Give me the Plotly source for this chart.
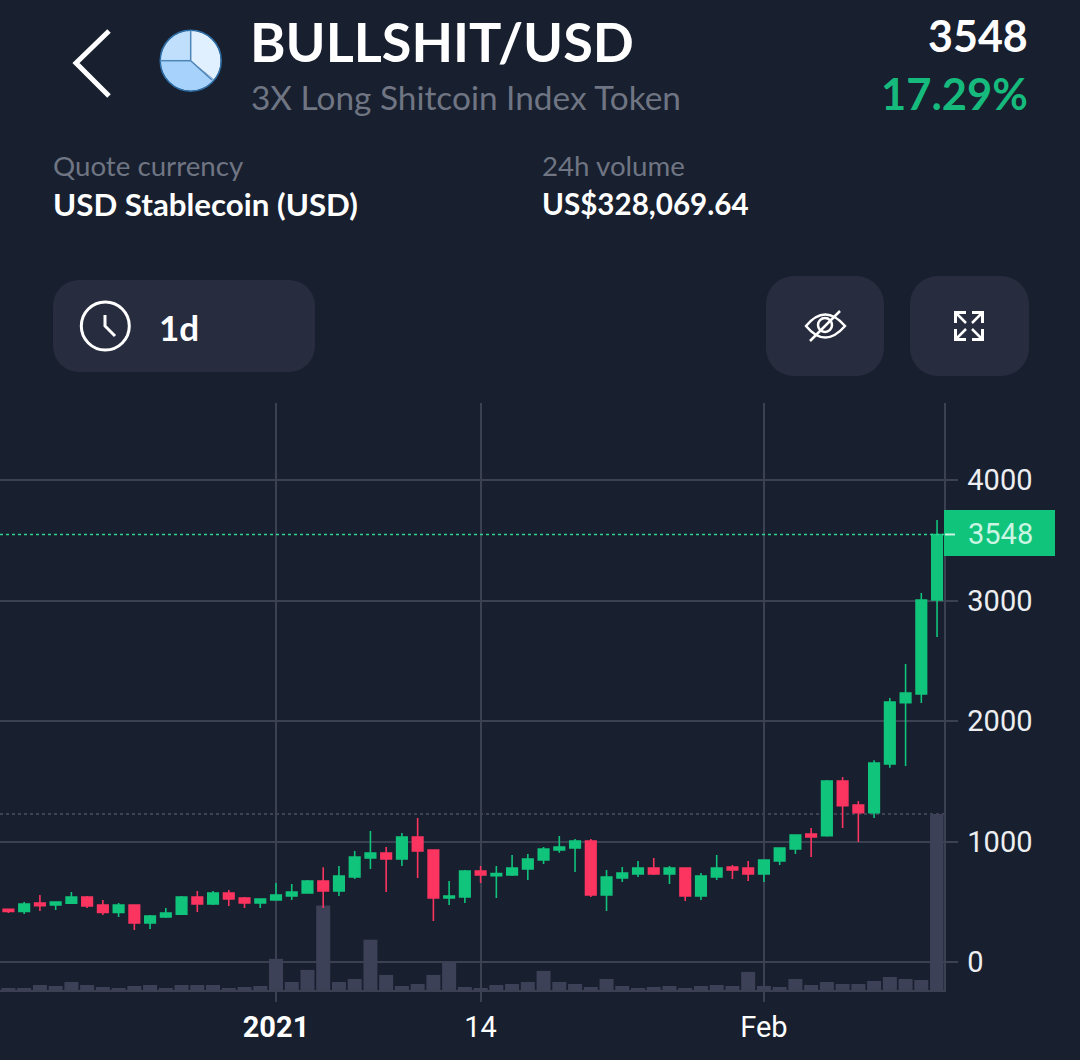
import math
import pandas as pd
import plotly.graph_objects as go

W = 1080
H = 1060
BG = "#181f2e"
PANEL = "#272d3f"
GRID = "#3b4052"
GREEN = "#10c47c"
RED = "#fb3460"
VOL = "#3d4158"
MUTED = "#6f7583"

dates = pd.date_range("2020-12-15", periods=60, freq="D")
open_ = [437, 420, 490, 473, 487, 540, 473, 412, 473, 324, 374, 396, 540, 481, 573, 531, 490,
         515, 548, 573, 672, 589, 706, 863, 905, 855, 1037, 930, 531, 540, 755, 717, 722, 772,
         847, 930, 946, 1004, 556, 697, 730, 780, 730, 780, 548, 706, 788, 780,
         730, 838, 938, 1062, 1049, 1502, 1303, 1240, 1643, 2152, 2224, 3004]
close = [420, 481, 468, 498, 540, 465, 412, 473, 324, 382, 407, 540, 481, 573, 523, 490, 523,
         556, 581, 672, 589, 714, 871, 905, 855, 1037, 921, 531, 548, 755, 722, 733, 780, 855,
         938, 954, 1004, 556, 706, 739, 780, 730, 780, 548, 714, 780, 764, 730,
         847, 946, 1054, 1037, 1502, 1298, 1240, 1652, 2158, 2232, 3004, 3548]
high = [443, 498, 556, 501, 581, 548, 515, 490, 473, 390, 448, 548, 589, 589, 598, 540, 526,
        656, 647, 681, 786, 797, 921, 1087, 954, 1071, 1195, 930, 672, 764, 797, 797, 888, 896,
        954, 1046, 1021, 1021, 764, 788, 838, 863, 797, 780, 739, 888, 805, 838,
        847, 946, 1054, 1112, 1510, 1535, 1336, 1674, 2191, 2473, 3062, 3668]
low = [407, 398, 423, 432, 481, 448, 390, 374, 266, 274, 365, 390, 415, 473, 465, 448, 448,
       512, 515, 567, 448, 548, 689, 772, 581, 797, 697, 340, 473, 490, 656, 531, 714, 681,
       813, 907, 747, 540, 423, 664, 706, 722, 647, 506, 515, 681, 689, 672,
       664, 805, 896, 871, 1040, 1112, 996, 1195, 1613, 1627, 2149, 2697]
volume = [3750, 3750, 9375, 7500, 15000, 9375, 5625, 3750, 7500, 9375, 3750, 9375, 9375, 9375,
          3750, 5625, 7500, 58125, 15000, 37500, 157500, 15000, 20625, 93750, 28125, 7500,
          11250, 28125, 52500, 5625, 3750, 9375, 11250, 15000, 35625, 15000, 11250, 5625,
          20625, 7500, 3750, 5625, 7500, 3750, 7500, 9375, 7500, 33750, 7500, 5625, 20625,
          9375, 15000, 11250, 11250, 16875, 24375, 20625, 18750, 328070]

price_ticks = [0, 1000, 2000, 3000, 4000]
date_ticks = ["2021-01-01", "2021-01-14", "2021-02-01"]
date_labels = ["<b>2021</b>", "14", "Feb"]
last_price = close[-1]


def px(x):
    return x / W


def py(y):
    return 1 - y / H


def path(points, closed=False):
    s = "M " + " L ".join(f"{px(x):.5f},{py(y):.5f}" for x, y in points)
    return s + (" Z" if closed else "")


def rounded(x0, y0, x1, y1, r):
    # corners as short polylines, everything here is in page pixels
    pts = []
    for cx, cy, a in [(x1 - r, y0 + r, -90), (x1 - r, y1 - r, 0), (x0 + r, y1 - r, 90), (x0 + r, y0 + r, 180)]:
        for i in range(13):
            t = math.radians(a + i * 7.5)
            pts.append((cx + r * math.cos(t), cy + r * math.sin(t)))
    return path(pts, True)


def wedge(cx, cy, r, a0, a1):
    pts = [(cx, cy)]
    for i in range(41):
        t = math.radians(a0 + (a1 - a0) * i / 40)
        pts.append((cx + r * math.cos(t), cy + r * math.sin(t)))
    return path(pts, True)


def shape_path(d, fill=None, color=None, width=0):
    return dict(type="path", path=d, xref="paper", yref="paper", fillcolor=fill or "rgba(0,0,0,0)",
                line=dict(color=color or "rgba(0,0,0,0)", width=width), layer="above")


def circle(cx, cy, r, fill=None, color=None, width=0):
    return dict(type="circle", xref="paper", yref="paper", x0=px(cx - r), x1=px(cx + r),
                y0=py(cy + r), y1=py(cy - r), fillcolor=fill or "rgba(0,0,0,0)",
                line=dict(color=color or "rgba(0,0,0,0)", width=width), layer="above")


def text(x, y, s, size, color, anchor="left", family="Lato"):
    return dict(x=px(x), y=py(y), xref="paper", yref="paper", text=s, showarrow=False, xanchor=anchor,
                yanchor="middle", font=dict(family=family, size=size, color=color),
                xshift=0, yshift=0, borderpad=0, borderwidth=0)


fig = go.Figure()

fig.add_trace(go.Bar(x=dates, y=volume, marker=dict(color=VOL, line=dict(width=0)), yaxis="y", showlegend=False))

fig.add_trace(go.Candlestick(
    x=dates, open=open_, high=high, low=low, close=close, yaxis="y2", showlegend=False, whiskerwidth=0,
    increasing=dict(line=dict(color=GREEN, width=1.6), fillcolor=GREEN),
    decreasing=dict(line=dict(color=RED, width=1.6), fillcolor=RED),
))

shapes = [
    # price and volume marker lines
    dict(type="line", xref="paper", x0=0, x1=945 / W, yref="y2", y0=last_price, y1=last_price,
         line=dict(color="#2fd394", width=1.5, dash="3px,3px"), layer="above"),
    dict(type="line", xref="paper", x0=0, x1=945 / W, yref="y", y0=volume[-1], y1=volume[-1],
         line=dict(color="#4b5064", width=1.5, dash="3px,3px"), layer="below"),
    dict(type="rect", xref="paper", yref="paper", x0=px(944), x1=px(1055), y0=py(556), y1=py(510),
         fillcolor=GREEN, line=dict(width=0), layer="above"),
    dict(type="line", xref="paper", yref="y2", x0=px(945), x1=px(955), y0=last_price, y1=last_price,
         line=dict(color="#c9f5e2", width=2), layer="above"),
    # buttons
    shape_path(rounded(53, 280, 315, 372, 26), fill=PANEL),
    shape_path(rounded(766, 276, 884, 376, 28), fill=PANEL),
    shape_path(rounded(910, 276, 1029, 376, 28), fill=PANEL),
    # back arrow
    shape_path(path([(109, 31), (76, 63), (109, 96)]), color="white", width=5),
    # pie logo
    shape_path(wedge(190.7, 60.7, 30, -90, 39), fill="#e0f0fe"),
    shape_path(wedge(190.7, 60.7, 30, 39, 180), fill="#a6d2fb"),
    shape_path(wedge(190.7, 60.7, 30, 180, 270), fill="#c0dffc"),
    circle(190.7, 60.7, 30.5, color="#2f6fa8", width=1.5),
    shape_path(path([(190.7, 30), (190.7, 60.7), (212, 80)]), color="#4f86b8", width=1.5),
    shape_path(path([(160, 60.7), (190.7, 60.7)]), color="#4f86b8", width=1.5),
    # clock
    circle(105.3, 326, 24, color="white", width=3),
    shape_path(path([(105, 315), (105, 326), (115, 336)]), color="white", width=3),
    # eye
    shape_path("M %.5f,%.5f Q %.5f,%.5f %.5f,%.5f Q %.5f,%.5f %.5f,%.5f Z" % (
        px(806), py(326), px(825), py(303), px(845), py(326), px(825), py(349), px(806), py(326)),
        color="white", width=2.5),
    circle(825, 325, 7, color="white", width=2.5),
    shape_path(path([(810, 341), (840, 311)]), color="white", width=2.5),
    # expand arrows
    shape_path(path([(966, 312.5), (955.5, 312.5), (955.5, 323)]), color="white", width=3),
    shape_path(path([(956, 313), (966, 323)]), color="white", width=2.5),
    shape_path(path([(972, 312.5), (982.5, 312.5), (982.5, 323)]), color="white", width=3),
    shape_path(path([(982, 313), (972, 323)]), color="white", width=2.5),
    shape_path(path([(955.5, 329), (955.5, 339.5), (966, 339.5)]), color="white", width=3),
    shape_path(path([(956, 339), (966, 329)]), color="white", width=2.5),
    shape_path(path([(982.5, 329), (982.5, 339.5), (972, 339.5)]), color="white", width=3),
    shape_path(path([(982, 339), (972, 329)]), color="white", width=2.5),
]

annotations = [
    text(250, 41, "<b>BULLSHIT/USD</b>", 54, "white"),
    text(250.5, 97.5, "3X Long Shitcoin Index Token", 33.4, MUTED),
    text(1028, 35, "<b>3548</b>", 43, "white", "right"),
    text(1028, 93, "<b>17.29%</b>", 43.5, "#16ba7d", "right"),
    text(53, 165, "Quote currency", 27.7, MUTED),
    text(53, 204, "<b>USD Stablecoin (USD)</b>", 31.3, "white"),
    text(541.5, 165, "24h volume", 27.7, MUTED),
    text(541.5, 204, "<b>US$328,069.64</b>", 29.6, "white"),
    text(159, 327, "<b>1d</b>", 35, "white"),
    text(1000.5, 533.5, str(last_price), 29, "#c9f5e2", "center", "Roboto"),
]

y_top = 403
y_bottom = 990
x_right = 943.5
per_px = 1000 / 120.5
vol_per_px = volume[-1] / 176

fig.update_layout(
    width=W,
    height=H,
    margin=dict(l=0, r=0, t=0, b=0),
    paper_bgcolor=BG,
    plot_bgcolor=BG,
    bargap=0.11,
    boxgap=0.33,
    boxgroupgap=0,
    showlegend=False,
    shapes=shapes,
    annotations=annotations,
    xaxis=dict(
        domain=[0, x_right / W],
        type="date",
        range=["2020-12-14 11:09", "2021-02-12 09:50"],
        rangeslider=dict(visible=False),
        tickmode="array",
        tickvals=date_ticks,
        ticktext=date_labels,
        tickfont=dict(family="Roboto", size=29, color="white"),
        showgrid=True,
        gridcolor=GRID,
        gridwidth=2,
        showline=True,
        linecolor=GRID,
        linewidth=2,
        ticks="outside",
        ticklen=10,
        tickwidth=2,
        tickcolor=GRID,
        ticklabelstandoff=0,
        zeroline=False,
    ),
    yaxis=dict(
        domain=[py(y_bottom), py(y_top)],
        range=[0, (y_bottom - y_top) * vol_per_px],
        visible=False,
        showgrid=False,
        zeroline=False,
    ),
    yaxis2=dict(
        domain=[py(y_bottom), py(y_top)],
        overlaying="y",
        side="right",
        range=[(962 - y_bottom) * per_px, (962 - y_top) * per_px],
        tickmode="array",
        tickvals=price_ticks,
        tickfont=dict(family="Roboto", size=29, color="#eceef1"),
        showgrid=True,
        gridcolor=GRID,
        gridwidth=2,
        showline=True,
        linecolor=GRID,
        linewidth=2,
        ticks="outside",
        ticklen=12,
        tickwidth=2,
        tickcolor=GRID,
        ticklabelstandoff=4,
        zeroline=False,
    ),
)

fig.write_html("out.html", config=dict(displayModeBar=False),
               post_script="document.body.style.margin='0';document.body.style.background='%s';" % BG)
